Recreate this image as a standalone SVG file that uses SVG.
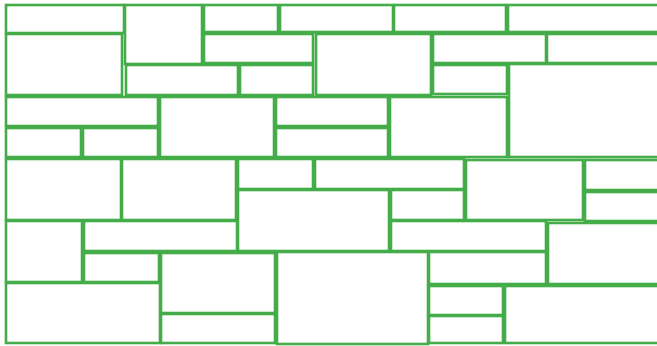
<svg xmlns="http://www.w3.org/2000/svg" width="657" height="346" viewBox="0 0 657 346">
<style>
.b{fill:#fff;stroke:#44ad4a;stroke-width:2.6}
</style>
<rect width="657" height="346" fill="#fff"/>
<g id="wall">
<rect class="b" x="6" y="5" width="118" height="28"/>
<rect class="b" x="125" y="5" width="77" height="59"/>
<rect class="b" x="204" y="5" width="74" height="27"/>
<rect class="b" x="280" y="5" width="113" height="27"/>
<rect class="b" x="394" y="5" width="112" height="27"/>
<rect class="b" x="508" y="5" width="152" height="27"/>
<rect class="b" x="6" y="34" width="116" height="61"/>
<rect class="b" x="204" y="34" width="109" height="29"/>
<rect class="b" x="316" y="34" width="115" height="61"/>
<rect class="b" x="433" y="34" width="113" height="29"/>
<rect class="b" x="547" y="34" width="113" height="29"/>
<rect class="b" x="126" y="65" width="112" height="30"/>
<rect class="b" x="240" y="65" width="73" height="30"/>
<rect class="b" x="433" y="65" width="74" height="29"/>
<rect class="b" x="509" y="64" width="151" height="93"/>
<rect class="b" x="6" y="97" width="152" height="29"/>
<rect class="b" x="6" y="128" width="75" height="29"/>
<rect class="b" x="83" y="128" width="75" height="29"/>
<rect class="b" x="160" y="97" width="114" height="60"/>
<rect class="b" x="276" y="97" width="112" height="29"/>
<rect class="b" x="276" y="128" width="112" height="29"/>
<rect class="b" x="390" y="97" width="117" height="60"/>
<rect class="b" x="6" y="159" width="115" height="61"/>
<rect class="b" x="122" y="159" width="114" height="61"/>
<rect class="b" x="238" y="159" width="75" height="30"/>
<rect class="b" x="315" y="159" width="149" height="30"/>
<rect class="b" x="238" y="190" width="151" height="61"/>
<rect class="b" x="391" y="190" width="73" height="30"/>
<rect class="b" x="466" y="160" width="117" height="60"/>
<rect class="b" x="585" y="160" width="75" height="30"/>
<rect class="b" x="585" y="192" width="75" height="29"/>
<rect class="b" x="6" y="221" width="76" height="61"/>
<rect class="b" x="84" y="221" width="153" height="30"/>
<rect class="b" x="391" y="221" width="155" height="30"/>
<rect class="b" x="548" y="223" width="112" height="61"/>
<rect class="b" x="84" y="253" width="75" height="29"/>
<rect class="b" x="161" y="253" width="114" height="60"/>
<rect class="b" x="277" y="252" width="151" height="92"/>
<rect class="b" x="429" y="252" width="117" height="32"/>
<rect class="b" x="6" y="283" width="154" height="60"/>
<rect class="b" x="161" y="314" width="114" height="29"/>
<rect class="b" x="429" y="286" width="74" height="29"/>
<rect class="b" x="429" y="316" width="74" height="27"/>
<rect class="b" x="505" y="286" width="155" height="57"/>
</g>
</svg>
